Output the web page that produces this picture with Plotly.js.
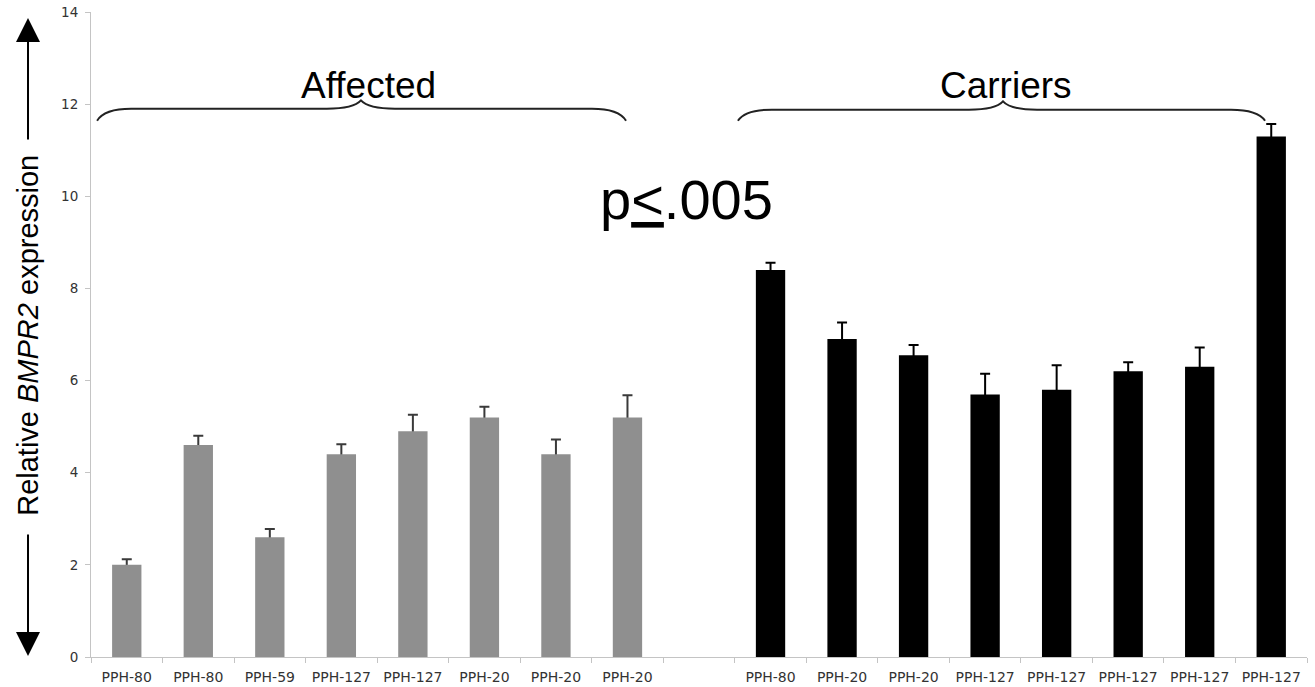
<!DOCTYPE html>
<html>
<head>
<meta charset="utf-8">
<script src="https://cdn.plot.ly/plotly-3.0.1.min.js"></script>
<style>html,body{margin:0;padding:0;background:#fff;}#chart{width:1315px;height:687px;}</style>
</head>
<body>
<div id="chart"></div>
<script>
// ---- data ----
const affectedLabels = ["PPH-80","PPH-80","PPH-59","PPH-127","PPH-127","PPH-20","PPH-20","PPH-20"];
const affectedValues = [2.0, 4.6, 2.6, 4.4, 4.9, 5.2, 4.4, 5.2];
const affectedErrors = [0.12, 0.2, 0.18, 0.22, 0.36, 0.23, 0.32, 0.48];

const carrierLabels = ["PPH-80","PPH-20","PPH-20","PPH-127","PPH-127","PPH-127","PPH-127","PPH-127"];
const carrierValues = [8.4, 6.9, 6.55, 5.7, 5.8, 6.2, 6.3, 11.3];
const carrierErrors = [0.16, 0.36, 0.22, 0.45, 0.53, 0.2, 0.42, 0.27];

const yTicks = [0, 2, 4, 6, 8, 10, 12, 14];

// ---- positions (index based; one empty slot between groups) ----
const affX = affectedLabels.map((_, i) => i);
const carX = carrierLabels.map((_, i) => affectedLabels.length + 1 + i);
const tickvals = affX.concat(carX);
const ticktext = affectedLabels.concat(carrierLabels);
const nSlots = affectedLabels.length + 1 + carrierLabels.length;
const BW = 0.41;

// error bars drawn on transparent bars underneath, so the real bars hide the lower half
function errTrace(x, y, err, color) {
  return {
    type: 'bar', x: x, y: y, width: BW,
    marker: {color: 'rgba(0,0,0,0)', line: {width: 0}},
    error_y: {type: 'data', symmetric: true, array: err, color: color, thickness: 2, width: 5},
    showlegend: false, hoverinfo: 'skip'
  };
}
function barTrace(x, y, color) {
  return {
    type: 'bar', x: x, y: y, width: BW,
    marker: {color: color, line: {width: 0}},
    showlegend: false, hoverinfo: 'x+y'
  };
}

const traces = [
  errTrace(affX, affectedValues, affectedErrors, '#3a3a3a'),
  barTrace(affX, affectedValues, '#8f8f8f'),
  errTrace(carX, carrierValues, carrierErrors, '#000000'),
  barTrace(carX, carrierValues, '#000000')
];

function brace(x0, x1, xm, yl, ye, yp) {
  const a = 0.028, b = 0.006;
  return `M ${x0},${ye} Q ${x0 + b},${yl} ${x0 + a},${yl} L ${xm - a},${yl} ` +
         `Q ${xm - b},${yl} ${xm},${yp} Q ${xm + b},${yl} ${xm + a},${yl} ` +
         `L ${x1 - a},${yl} Q ${x1 - b},${yl} ${x1},${ye}`;
}

const layout = {
  width: 1315, height: 687,
  margin: {l: 91, r: 8, t: 12, b: 30},
  paper_bgcolor: '#ffffff', plot_bgcolor: '#ffffff',
  barmode: 'overlay',
  font: {family: 'DejaVu Sans, Verdana, sans-serif', color: '#333'},
  xaxis: {
    range: [-0.5, nSlots - 0.5],
    tickmode: 'array', tickvals: tickvals, ticktext: ticktext,
    ticks: '', showgrid: false, zeroline: false,
    showline: true, linecolor: '#c4c4c4', linewidth: 1,
    tickfont: {size: 14, color: '#333', family: 'DejaVu Sans, Verdana, sans-serif'},
    ticklabelstandoff: 7,
    minor: {ticks: 'outside', ticklen: 5, tickcolor: '#c4c4c4', tick0: 0.5, dtick: 1, showgrid: false},
    fixedrange: true
  },
  yaxis: {
    range: [0, 14], tickmode: 'array', tickvals: yTicks,
    ticks: 'outside', ticklen: 5, tickcolor: '#c4c4c4',
    showgrid: false, zeroline: false,
    showline: true, linecolor: '#c4c4c4', linewidth: 1,
    tickfont: {size: 13.5, color: '#333', family: 'DejaVu Sans, Verdana, sans-serif'},
    ticklabelstandoff: 4,
    fixedrange: true
  },
  shapes: [
    {type: 'path', xref: 'paper', yref: 'y', path: brace(0.005, 0.440, 0.222, 11.9, 11.64, 12.08),
     line: {color: '#222', width: 2}},
    {type: 'path', xref: 'paper', yref: 'y', path: brace(0.532, 0.9655, 0.750, 11.88, 11.64, 12.06),
     line: {color: '#222', width: 2}}
  ],
  annotations: [
    {xref: 'paper', yref: 'y', x: 0.2278, y: 12.4, text: 'Affected', showarrow: false,
     font: {family: 'Liberation Sans, Arial, sans-serif', size: 37, color: '#000'}, xanchor: 'center', yanchor: 'middle'},
    {xref: 'paper', yref: 'y', x: 0.7525, y: 12.4, text: 'Carriers', showarrow: false,
     font: {family: 'Liberation Sans, Arial, sans-serif', size: 37, color: '#000'}, xanchor: 'center', yanchor: 'middle'},
    {xref: 'paper', yref: 'y', x: 0.490, y: 9.92, text: 'p<u>&lt;</u>.005', showarrow: false,
     font: {family: 'Liberation Sans, Arial, sans-serif', size: 56, color: '#000'}, xanchor: 'center', yanchor: 'middle'},
    {xref: 'paper', yref: 'paper', x: -0.0518, y: 0.498, text: 'Relative <i>BMPR2</i> expression', showarrow: false,
     textangle: -90, font: {family: 'Liberation Sans, Arial, sans-serif', size: 29, color: '#000'},
     xanchor: 'center', yanchor: 'middle'},
    {xref: 'paper', yref: 'paper', x: -0.0518, y: (657 - 18) / 645, ax: 0, ay: 130, text: ' ',
     showarrow: true, arrowhead: 2, arrowsize: 2.4, arrowwidth: 2, arrowcolor: '#000', standoff: 0, startstandoff: 0},
    {xref: 'paper', yref: 'paper', x: -0.0518, y: (657 - 656) / 645, ax: 0, ay: -130, text: ' ',
     showarrow: true, arrowhead: 2, arrowsize: 2.4, arrowwidth: 2, arrowcolor: '#000', standoff: 0, startstandoff: 0}
  ]
};

Plotly.newPlot('chart', traces, layout, {displayModeBar: false, staticPlot: true});
</script>
</body>
</html>
